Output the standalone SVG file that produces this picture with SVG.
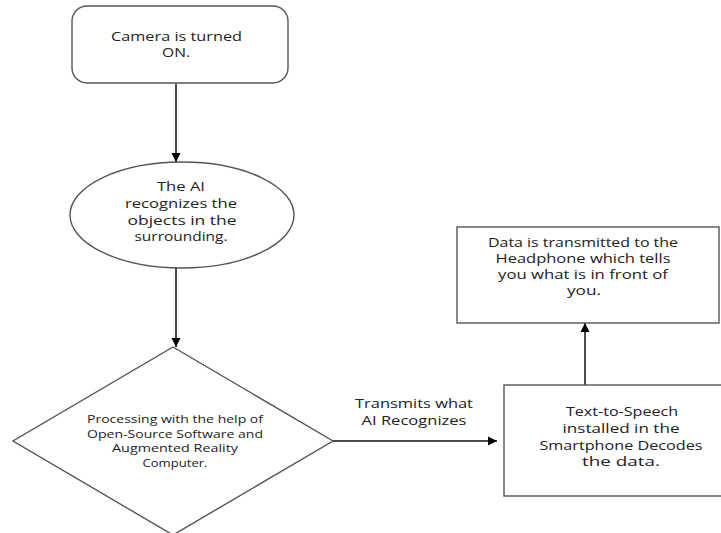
<svg xmlns="http://www.w3.org/2000/svg" width="721" height="533" viewBox="0 0 721 533">
<defs>
<marker id="arr" markerWidth="10" markerHeight="10" refX="9" refY="5" orient="auto" markerUnits="userSpaceOnUse">
<path d="M0,0.5 L9,5 L0,9.5 z" fill="#000"/>
</marker>
<style>
.shape{fill:#fff;stroke:#555;stroke-width:1.4}
.conn{stroke:#111;stroke-width:1.5;fill:none;marker-end:url(#arr)}
text{font-family:"Open Sans","Liberation Sans",sans-serif;font-size:12.5px;fill:#222;text-anchor:middle}
.sm{font-size:10.5px}
</style>
</defs>
<rect width="721" height="533" fill="#fff"/>
<g id="connectors">
<line class="conn" x1="176" y1="84" x2="176" y2="162"/>
<line class="conn" x1="176" y1="267" x2="176" y2="347"/>
<line class="conn" x1="333" y1="441" x2="497" y2="441"/>
<line class="conn" x1="585" y1="385" x2="585" y2="323"/>
</g>
<g id="camera">
<rect class="shape" x="72" y="6" width="216" height="77" rx="15"/>
<text x="176.5" y="41" textLength="131" lengthAdjust="spacingAndGlyphs">Camera is turned</text>
<text x="176" y="57" textLength="28" lengthAdjust="spacingAndGlyphs">ON.</text>
</g>
<g id="ai">
<ellipse class="shape" cx="182" cy="215" rx="112" ry="53"/>
<text x="181" y="191" textLength="48" lengthAdjust="spacingAndGlyphs">The AI</text>
<text x="181" y="208" textLength="112" lengthAdjust="spacingAndGlyphs">recognizes the</text>
<text x="182" y="225" textLength="109" lengthAdjust="spacingAndGlyphs">objects in the</text>
<text x="181" y="241" textLength="93" lengthAdjust="spacingAndGlyphs">surrounding.</text>
</g>
<g id="processing">
<polygon class="shape" points="173,347 333,441 173,535 13,441"/>
<text class="sm" x="175" y="423" textLength="176" lengthAdjust="spacingAndGlyphs">Processing with the help of</text>
<text class="sm" x="175" y="438" textLength="176" lengthAdjust="spacingAndGlyphs">Open-Source Software and</text>
<text class="sm" x="175" y="452" textLength="126" lengthAdjust="spacingAndGlyphs">Augmented Reality</text>
<text class="sm" x="175" y="467" textLength="65" lengthAdjust="spacingAndGlyphs">Computer.</text>
</g>
<g id="label">
<text x="414" y="408" textLength="118" lengthAdjust="spacingAndGlyphs">Transmits what</text>
<text x="414" y="425" textLength="105" lengthAdjust="spacingAndGlyphs">AI Recognizes</text>
</g>
<g id="tts">
<rect class="shape" x="504" y="385" width="240" height="111"/>
<text x="622" y="416" textLength="112" lengthAdjust="spacingAndGlyphs">Text-to-Speech</text>
<text x="621" y="433" textLength="117" lengthAdjust="spacingAndGlyphs">installed in the</text>
<text x="621" y="450" textLength="163" lengthAdjust="spacingAndGlyphs">Smartphone Decodes</text>
<text x="621" y="466" textLength="78" lengthAdjust="spacingAndGlyphs">the data.</text>
</g>
<g id="headphone">
<rect class="shape" x="457" y="227" width="262" height="96"/>
<text x="583" y="247" textLength="190" lengthAdjust="spacingAndGlyphs">Data is transmitted to the</text>
<text x="583" y="263" textLength="175" lengthAdjust="spacingAndGlyphs">Headphone which tells</text>
<text x="583" y="279" textLength="170" lengthAdjust="spacingAndGlyphs">you what is in front of</text>
<text x="584" y="295" textLength="34" lengthAdjust="spacingAndGlyphs">you.</text>
</g>
</svg>
